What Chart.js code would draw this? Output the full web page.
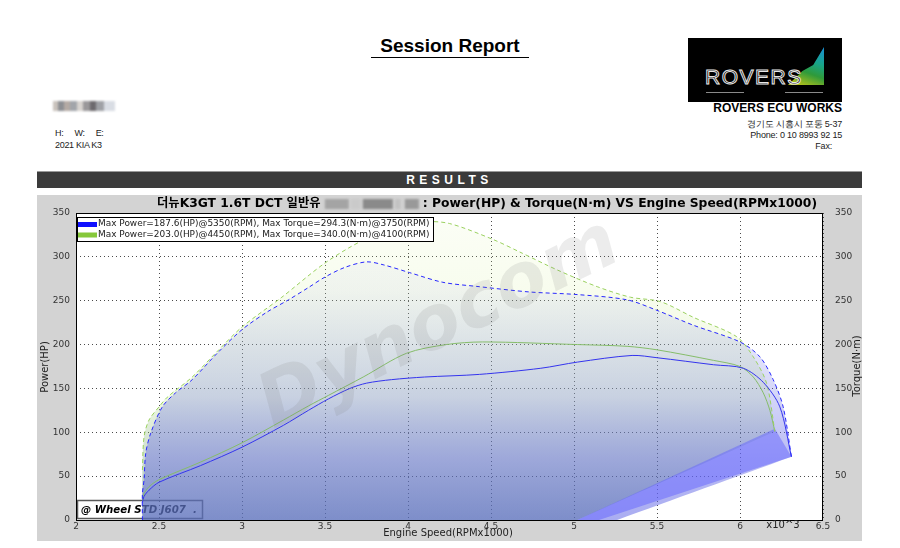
<!DOCTYPE html>
<html>
<head>
<meta charset="utf-8">
<script src="https://cdn.jsdelivr.net/npm/chart.js@4.4.1/dist/chart.umd.min.js"></script>
<style>
  body { margin: 0; width: 900px; height: 548px; overflow: hidden; position: relative; background: #fff;
         font-family: "Liberation Sans", Arial, sans-serif; color: #000; }
  .abs { position: absolute; white-space: nowrap; }
  #report-title { left: 0; width: 900px; top: 35px; text-align: center; font-weight: bold; font-size: 19px; line-height: 22px; }
  #report-title span { padding: 0 9px 1px 9px; border-bottom: 1.5px solid #000; }
  #logo { left: 688px; top: 38px; width: 154px; height: 64px; background: #000; overflow: hidden; }
  #logo .shard { position: absolute; left: 100px; top: 9px; width: 36px; height: 40px;
                 clip-path: polygon(100% 0, 100% 95%, 0 95%, 40% 60%, 70% 45%);
                 background: linear-gradient(200deg, #1a8fd8 0%, #18a58a 35%, #2f9a3a 60%, #b7c21a 90%); }
  #logo .name { position: absolute; left: 17px; top: 27px; font-size: 21px; line-height: 24px; letter-spacing: 1.5px;
                color: #000; -webkit-text-stroke: 1px #e8e8e8; font-family: "Liberation Sans", Arial, sans-serif; }
  #logo .ul { position: absolute; top: 54px; height: 1px; background: #8a8a8a; }
  .info { right: 58px; text-align: right; font-size: 9px; line-height: 11px; color: #222; letter-spacing: -0.2px; }
  #company { right: 58px; top: 101px; font-weight: bold; font-size: 12px; line-height: 14px; }
  .left-info { left: 55px; font-size: 9px; line-height: 11px; color: #222; letter-spacing: -0.3px; }
  #blur-name { left: 53px; top: 101px; width: 62px; height: 10px; filter: blur(1px);
               background: linear-gradient(90deg, #c9c2bc 0 8%, #8d8f93 8% 18%, #b4aaa4 18% 28%, #a2a5aa 28% 38%, #d8d4d0 38% 48%,
               #9a989a 48% 60%, #6d6a6e 60% 70%, #9fa1a6 70% 82%, #d9dde4 82% 100%); }
  #results { left: 37px; top: 171px; width: 825px; height: 17px; background: #3b3b3b; color: #fff; text-align: center;
             font-weight: bold; font-size: 12px; line-height: 17px; letter-spacing: 4.5px; border-top: 1px solid #9a9a9a; box-sizing: border-box; }
  #panel { left: 37px; top: 195px; width: 825px; height: 346px; background: #d3d3d3; }
</style>
</head>
<body>
<div id="report-title" class="abs"><span>Session Report</span></div>

<div id="logo" class="abs">
  <div class="shard"></div>
  <div class="name">ROVERS</div>
  <div class="ul" style="left:18px;width:38px"></div>
  <div class="ul" style="left:97px;width:38px"></div>
</div>
<div id="company" class="abs">ROVERS ECU WORKS</div>
<div class="abs info" style="top:119px">경기도 시흥시 포동 5-37</div>
<div class="abs info" style="top:130px">Phone: 0 10 8993 92 15</div>
<div class="abs info" style="top:141px;right:68px">Fax:</div>

<div id="blur-name" class="abs"></div>
<div class="abs left-info" style="top:128px">H:&nbsp;&nbsp;&nbsp;&nbsp;&nbsp;W:&nbsp;&nbsp;&nbsp;&nbsp;&nbsp;E:</div>
<div class="abs left-info" style="top:140px">2021 KIA K3</div>

<div id="results" class="abs">RESULTS</div>

<div id="panel" class="abs"><canvas id="dynoChart" width="825" height="346"></canvas></div>

<script>
// ---- data (rpm x1000) ----
// car 1 (blue)
const bluePowerRpm = [2.40, 2.41, 2.44, 2.50, 2.75, 3.00, 3.25, 3.40, 3.52, 3.65, 3.75, 3.90, 4.10, 4.43, 4.80, 5.02, 5.35, 5.50, 5.84, 6.02, 6.14, 6.24, 6.31];
const bluePowerHp  = [20, 27, 34, 43, 62, 83, 108, 125, 138, 150, 156, 160, 163, 166, 173, 180, 187.6, 185, 177, 173, 157, 129, 72];
const blueTorqueRpm = [2.40, 2.40, 2.41, 2.42, 2.45, 2.52, 2.60, 2.70, 2.85, 3.00, 3.15, 3.28, 3.40, 3.50, 3.62, 3.75, 3.85, 4.01, 4.21, 4.43, 4.73, 5.02, 5.32, 5.50, 5.72, 6.00, 6.12, 6.20, 6.26, 6.31];
const blueTorqueNm  = [0, 30, 46, 76, 99, 129, 145, 160, 190, 217, 237, 251, 265, 277, 288, 294.3, 291, 282, 271, 266, 260, 257, 251, 239, 222, 203, 186, 160, 129, 72];
// car 2 (green)
const greenPowerRpm = [2.40, 2.41, 2.44, 2.50, 2.75, 3.00, 3.25, 3.40, 3.52, 3.73, 3.99, 4.23, 4.45, 5.02, 5.32, 5.50, 5.84, 6.00, 6.08, 6.14, 6.18, 6.21];
const greenPowerHp  = [22, 30, 38, 46, 66, 88, 114, 130, 142, 163, 190, 200, 203, 200, 198, 194, 182, 175, 163, 145, 125, 101];
const greenTorqueRpm = [2.40, 2.41, 2.44, 2.50, 2.55, 2.70, 2.85, 3.00, 3.24, 3.50, 3.73, 3.95, 4.10, 4.25, 4.51, 4.69, 4.90, 5.14, 5.34, 5.52, 5.72, 5.98, 6.08, 6.16, 6.21];
const greenTorqueNm  = [57, 95, 114, 129, 140, 163, 192, 220, 254, 293, 319, 334, 340, 338, 320, 304, 285, 266, 254, 249, 231, 209, 186, 156, 101];
// coast-down closing points of the shaded runs
const blueCloseRpm = 5.26;
const greenCloseRpm = 5.02;
const wedgeRpm = [5.02, 6.21, 6.31, 5.15];
const wedgeVal = [0, 104, 72, 0];

const legendLines = [
  'Max Power=187.6(HP)@5350(RPM), Max Torque=294.3(N·m)@3750(RPM)',
  'Max Power=203.0(HP)@4450(RPM), Max Torque=340.0(N·m)@4100(RPM)'
];
const legendColors = ['#1010ff', '#86c83a'];
const xTicksMin = 2, xTicksMax = 6.5, xStep = 0.5;
const yMin = 0, yMax = 350, yStep = 50;

function pts(xs, ys) { return xs.map((x, i) => ({ x: x, y: ys[i] })); }

function vGrad(chart, stops) {
  const a = chart.chartArea;
  if (!a) return 'rgba(0,0,0,0)';
  const g = chart.ctx.createLinearGradient(0, a.top, 0, a.bottom);
  stops.forEach(s => g.addColorStop(s[0], s[1]));
  return g;
}

// closed outlines for the shading; the end point is repeated so the smoothing keeps a sharp corner there
function shape(xs, ys, closeX) {
  const p = pts(xs, ys);
  const last = p[p.length - 1];
  return [{ x: xs[0], y: 0 }].concat(p, [{ x: last.x, y: last.y }, { x: closeX, y: 0 }, { x: closeX, y: 0 }]);
}
const blueShape = shape(blueTorqueRpm, blueTorqueNm, blueCloseRpm);
const greenShape = shape(greenTorqueRpm, greenTorqueNm, greenCloseRpm);

const reportPlugin = {
  id: 'report',
  beforeDraw(chart) {
    const { ctx, chartArea: a } = chart;
    ctx.save();
    ctx.fillStyle = '#fff';
    ctx.fillRect(a.left, a.top, a.right - a.left, a.bottom - a.top);
    ctx.restore();
  },
  beforeDatasetsDraw(chart) {
    const { ctx, chartArea: a } = chart;
    // "@ Wheel" tag, sits under the shading
    ctx.save();
    ctx.strokeStyle = '#5a5a5a';
    ctx.lineWidth = 1.5;
    ctx.strokeRect(a.left + 1.5, a.bottom - 19.5, 125, 18);
    ctx.fillStyle = '#000';
    ctx.font = 'italic bold 11px "DejaVu Sans"';
    const w = ctx.measureText('@ Wheel STD J607  .').width;
    ctx.font = 'italic bold ' + (11 * 116 / w).toFixed(2) + 'px "DejaVu Sans"';
    ctx.textBaseline = 'middle';
    ctx.fillText('@ Wheel STD J607  .', a.left + 5, a.bottom - 10);
    ctx.restore();
  },
  afterDatasetsDraw(chart) {
    const { ctx, chartArea: a } = chart;
    // watermark
    ctx.save();
    ctx.translate(403, 131);
    ctx.rotate(-26 * Math.PI / 180);
    ctx.font = 'italic bold 80px "DejaVu Sans"';
    const w = ctx.measureText('Dynocom').width;
    ctx.font = 'italic bold ' + (80 * 390 / w).toFixed(1) + 'px "DejaVu Sans"';
    ctx.textAlign = 'center';
    ctx.textBaseline = 'middle';
    ctx.fillStyle = 'rgba(120,120,120,0.14)';
    ctx.fillText('Dynocom', 0, 0);
    ctx.restore();

    // frame
    ctx.save();
    ctx.strokeStyle = '#000';
    ctx.lineWidth = 1;
    ctx.strokeRect(a.left + 0.5, a.top + 0.5, a.right - a.left - 1, a.bottom - a.top);
    ctx.restore();

    // legend
    ctx.save();
    const lx = a.left + 1, ly = a.top + 4;
    ctx.fillStyle = '#fff';
    ctx.fillRect(lx, ly, 356, 24);
    ctx.strokeStyle = '#000';
    ctx.strokeRect(lx + 0.5, ly + 0.5, 356, 24);
    ctx.font = '10px "DejaVu Sans"';
    const tw = ctx.measureText(legendLines[0]).width;
    const fs = 10 * 332 / tw;
    ctx.font = fs.toFixed(2) + 'px "DejaVu Sans"';
    ctx.textBaseline = 'middle';
    legendLines.forEach((t, i) => {
      ctx.fillStyle = legendColors[i];
      ctx.fillRect(lx + 1, ly + 5 + i * 10.5, 19, 5);
      ctx.fillStyle = '#222';
      ctx.fillText(t, lx + 21, ly + 7 + i * 10.5);
    });
    ctx.restore();
  },
  afterDraw(chart) {
    const { ctx } = chart;
    ctx.save();
    // chart title with censored piece
    ctx.font = 'bold 12.3px "DejaVu Sans", "Noto Sans CJK KR"';
    ctx.textBaseline = 'middle';
    ctx.fillStyle = '#000';
    let x = 120;
    const p1 = '더뉴K3GT 1.6T DCT 일반유 ';
    ctx.fillText(p1, x, 9);
    x += ctx.measureText(p1).width;
    ctx.save();
    ctx.filter = 'blur(1.2px)';
    const blocks = [[0, 24, '#a4a4a4'], [26, 10, '#cacaca'], [38, 30, '#8a8a8a'], [70, 6, '#c2c2c2'], [80, 14, '#999']];
    blocks.forEach(b => { ctx.fillStyle = b[2]; ctx.fillRect(x + b[0], 4, b[1], 10); });
    ctx.restore();
    x += 98;
    ctx.fillText(': Power(HP) & Torque(N·m) VS Engine Speed(RPMx1000)', x, 9);

    // axis titles
    ctx.font = '10px "DejaVu Sans"';
    ctx.fillStyle = '#222';
    ctx.textAlign = 'center';
    ctx.fillText('Engine Speed(RPMx1000)', 411, 338);
    ctx.fillText('x10^3', 746, 330);
    ctx.save();
    ctx.translate(8, 172);
    ctx.rotate(-Math.PI / 2);
    ctx.fillText('Power(HP)', 0, 0);
    ctx.restore();
    ctx.save();
    ctx.translate(820, 171);
    ctx.rotate(-Math.PI / 2);
    ctx.fillText('Torque(N·m)', 0, 0);
    ctx.restore();
    ctx.restore();
  }
};

const tickFont = { family: '"DejaVu Sans"', size: 9 };
const gridStyle = { color: '#4a4a4a', lineWidth: 1, drawTicks: false };
const smooth = 0.3;

new Chart(document.getElementById('dynoChart').getContext('2d'), {
  type: 'line',
  data: {
    datasets: [
      { label: 'Torque 1', data: pts(blueTorqueRpm, blueTorqueNm), yAxisID: 'y2', borderColor: '#2828ff', borderWidth: 1, borderDash: [4, 3], fill: false, pointRadius: 0, tension: smooth },
      { label: 'Power 1', data: pts(bluePowerRpm, bluePowerHp), yAxisID: 'y', borderColor: '#3434ee', borderWidth: 1, fill: false, pointRadius: 0, tension: smooth },
      { label: 'Torque 2', data: pts(greenTorqueRpm, greenTorqueNm), yAxisID: 'y2', borderColor: '#9ad15f', borderWidth: 1, borderDash: [4, 3], fill: false, pointRadius: 0, tension: smooth },
      { label: 'Power 2', data: pts(greenPowerRpm, greenPowerHp), yAxisID: 'y', borderColor: '#86bd6a', borderWidth: 1, fill: false, pointRadius: 0, tension: smooth },
      { label: 'wedge', data: pts(wedgeRpm, wedgeVal), yAxisID: 'y', borderWidth: 0, pointRadius: 0, fill: 'shape', tension: 0, backgroundColor: 'rgba(100,100,255,0.5)' },
      { label: 'shade 1', data: blueShape, yAxisID: 'y2', borderWidth: 0, pointRadius: 0, fill: 'shape', tension: smooth,
        backgroundColor: c => vGrad(c.chart, [[0, 'rgba(100,105,230,0.02)'], [0.25, 'rgba(100,105,230,0.06)'], [0.6, 'rgba(100,105,230,0.28)'], [0.8, 'rgba(100,105,230,0.45)'], [1, 'rgba(100,105,230,0.55)']]) },
      { label: 'shade 2', data: greenShape, yAxisID: 'y2', borderWidth: 0, pointRadius: 0, fill: 'shape', tension: smooth,
        backgroundColor: c => vGrad(c.chart, [[0, 'rgba(220,245,170,0.1)'], [0.25, 'rgba(215,240,160,0.18)'], [0.6, 'rgba(200,235,150,0.3)'], [0.8, 'rgba(90,140,100,0.3)'], [1, 'rgba(60,120,80,0.5)']]) }
    ]
  },
  options: {
    responsive: false,
    animation: false,
    devicePixelRatio: 1,
    events: [],
    layout: { padding: { top: 18, left: 0, right: 0, bottom: 0 } },
    plugins: { legend: { display: false }, tooltip: { enabled: false }, title: { display: false } },
    scales: {
      x: {
        type: 'linear', min: xTicksMin, max: xTicksMax,
        ticks: { stepSize: xStep, font: tickFont, color: '#333', padding: 1, maxRotation: 0, callback: v => String(v) },
        grid: gridStyle,
        border: { display: false, dash: [1, 3] },
        afterFit: s => { s.height = 21; }
      },
      y: {
        position: 'left', min: yMin, max: yMax,
        ticks: { stepSize: yStep, font: tickFont, color: '#333', padding: 6 },
        grid: gridStyle,
        border: { display: false, dash: [1, 3] },
        afterFit: s => { s.width = 39; }
      },
      y2: {
        position: 'right', min: yMin, max: yMax,
        ticks: { stepSize: yStep, font: tickFont, color: '#333', padding: 12 },
        grid: { display: false, drawTicks: false },
        border: { display: false },
        afterFit: s => { s.width = 39; }
      }
    }
  },
  plugins: [reportPlugin]
});
</script>
</body>
</html>
